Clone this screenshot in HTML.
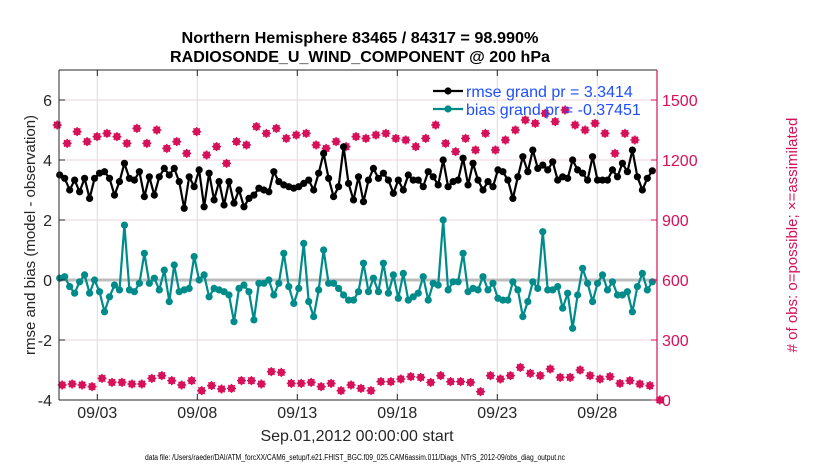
<!DOCTYPE html>
<html><head><meta charset="utf-8">
<style>
html,body{margin:0;padding:0;background:#fff;}
svg{display:block;font-family:"Liberation Sans",Arial,sans-serif;}
</style></head>
<body>
<svg id="chart" width="830" height="470" viewBox="0 0 830 470" xmlns="http://www.w3.org/2000/svg">
<g id="grid"></g>
<g id="series"></g>
<g id="axes"></g>
</svg>
<script>
const rmseValues=[3.5,3.39,3.0,3.33,2.94,3.39,2.72,3.39,3.56,3.61,3.39,2.83,3.28,3.89,3.39,3.33,3.61,2.78,3.44,2.83,3.44,3.72,3.5,3.72,3.28,2.39,3.44,3.11,3.67,2.44,
3.56,2.67,3.28,2.5,3.28,2.56,3.0,2.44,2.72,2.83,3.06,3.0,2.94,3.61,3.28,3.17,3.11,3.06,3.11,3.22,3.33,3.0,3.56,4.22,3.39,2.78,3.11,4.44,3.22,2.67,
3.44,2.61,3.33,3.72,3.39,3.56,3.33,2.89,3.33,3.0,3.5,3.33,3.33,3.11,3.61,3.44,3.17,4.0,3.11,3.28,3.33,4.06,3.17,3.89,3.33,3.0,3.28,3.11,3.67,
3.61,3.33,2.72,3.44,4.11,3.61,4.33,3.72,3.83,3.67,3.94,3.33,3.44,3.39,4.0,3.67,3.56,3.33,4.11,3.33,3.33,3.33,3.67,3.44,3.89,3.61,4.33,3.44,3.0,3.39,3.64];
const biasValues=[0.06,0.11,-0.22,-0.44,-0.06,0.17,-0.44,0,-0.39,-1.06,-0.56,-0.17,-0.33,1.83,-0.33,-0.39,-0.11,0.89,-0.11,0.06,-0.33,0.33,-0.72,0.5,-0.39,-0.33,-0.28,0.78,0,0.17,
-0.56,-0.28,-0.33,-0.39,-0.5,-1.39,-0.28,-0.17,-0.39,-1.33,-0.11,-0.11,0,-0.5,-0.11,0.89,-0.22,-0.78,-0.28,1.22,-0.72,-1.22,-0.33,1.0,-0.11,-0.11,-0.28,-0.5,-0.67,-0.67,
-0.39,0.56,-0.39,0.06,-0.39,0.56,-0.44,0.17,-0.61,0.22,-0.67,-0.56,-0.44,0.11,-0.67,-0.11,-0.17,2.0,-0.33,-0.06,-0.06,0.89,-0.39,-0.28,-0.33,0.11,-0.33,-0.11,-0.61,
-0.67,-0.67,-0.06,-0.33,-1.22,-0.72,-0.06,-0.28,1.61,-0.33,-0.33,-0.22,-0.94,-0.44,-1.61,-0.5,0.39,-0.11,-0.72,-0.11,0.17,-0.33,-0.06,-0.5,-0.5,-0.39,-1.06,-0.22,0.22,-0.33,-0.06];
const obsSynoptic=[1375,1283,1342,1292,1317,1333,1317,1283,1358,1283,1350,1258,1292,1233,1342,1225,
1267,1183,1292,1275,1367,1333,1358,1308,1325,1333,1275,1258,1292,1267,
1317,1308,1325,1333,1308,1300,1267,1308,1375,1283,1242,1308,1250,1333,
1250,1300,1350,1400,1383,1433,1392,1450,1375,1350,1383,1333,1233,1333,1300];
const obsOffSynoptic=[75,80,75,67,108,88,88,80,80,108,122,97,75,97,47,72,55,58,97,97,80,142,138,83,83,88,67,83,47,75,
58,47,92,92,105,117,113,88,122,92,92,88,42,122,105,122,163,133,122,155,113,113,150,122,105,117,83,97,80,72,0];
const leftTicks=[6,4,2,0,-2,-4];
const rightTicks=[0,300,600,900,1200,1500];
const dateTicks=[3,8,13,18,23,28];
const dateLabels=["09/03","09/08","09/13","09/18","09/23","09/28"];

const NS="http://www.w3.org/2000/svg";
const L=59,R=657,T=70,B=400;
const xIdx=i=>59.7+4.98*i;
const xDay=d=>57.3+20*(d-1);
const yL=v=>280-30*v;
const yR=c=>400-0.2*c;
const MAG="#d6115a",TEAL="#008b8b";
function mk(tag,attrs,parent){const e=document.createElementNS(NS,tag);for(const k in attrs)e.setAttribute(k,attrs[k]);parent.appendChild(e);return e;}
const grid=document.getElementById('grid'),series=document.getElementById('series'),axes=document.getElementById('axes');

let bg=mk('rect',{x:L,y:T,width:R-L,height:B-T,fill:'#fff'},grid);


dateTicks.forEach((d,k)=>{
 let g=mk('line',{x1:xDay(d),x2:xDay(d),y1:T,y2:B,stroke:'#dcdcdc','stroke-width':1},grid);
 
 
});
rightTicks.forEach(c=>{
 if(c===0)return;
 let g=mk('line',{x1:L,x2:R,y1:yR(c),y2:yR(c),stroke:'#f2d3de','stroke-width':1},grid);
 
 
});
let z=mk('line',{x1:L,x2:R,y1:yL(0),y2:yL(0),stroke:'#bdbdbd','stroke-width':3},grid);



function obsMarker(x,y){
 const g=mk('g',{},series);
 
 
 mk('circle',{cx:x,cy:y,r:3.2,fill:MAG,stroke:MAG,'stroke-width':1},g);
 mk('path',{d:`M${x-4.5},${y}H${x+4.5}M${x},${y-4.5}V${y+4.5}M${x-3.2},${y-3.2}L${x+3.2},${y+3.2}M${x-3.2},${y+3.2}L${x+3.2},${y-3.2}`,stroke:MAG,'stroke-width':1.5},g);
}
obsSynoptic.forEach((c,k)=>obsMarker(xIdx(2*k-0.5),yR(c)));
obsOffSynoptic.forEach((c,k)=>obsMarker(xIdx(2*k+0.5),yR(c)));

function lineSeries(vals,color,name){
 const pts=vals.map((v,i)=>xIdx(i).toFixed(1)+','+yL(v).toFixed(1)).join(' ');
 let pl=mk('polyline',{points:pts,fill:'none',stroke:color,'stroke-width':2.2,'stroke-linejoin':'round'},series);
 
 
 vals.forEach((v,i)=>{
  let c=mk('circle',{cx:xIdx(i),cy:yL(v),r:3.6,fill:color},series);
  
  
 });
}
lineSeries(biasValues,TEAL,'bias');
lineSeries(rmseValues,'#000','rmse');

mk('line',{x1:L,x2:R,y1:T,y2:T,stroke:'#262626','stroke-width':1},axes);
mk('line',{x1:L,x2:R,y1:B,y2:B,stroke:'#262626','stroke-width':1},axes);
mk('line',{x1:L,x2:L,y1:T,y2:B,stroke:'#262626','stroke-width':1},axes);
mk('line',{x1:R,x2:R,y1:T,y2:B+1,stroke:MAG,'stroke-width':1.2},axes);
leftTicks.forEach(v=>{
 mk('line',{x1:L,x2:L+6,y1:yL(v),y2:yL(v),stroke:'#262626'},axes);
 let t=mk('text',{x:52,y:yL(v)+6,'text-anchor':'end','font-size':16,fill:'#262626'},axes);
 t.textContent=String(v);
 
 
});
rightTicks.forEach(c=>{
 mk('line',{x1:R-6,x2:R,y1:yR(c),y2:yR(c),stroke:MAG},axes);
 let t=mk('text',{x:662,y:yR(c)+6,'font-size':16,fill:MAG},axes);
 t.textContent=String(c);
 
 
});
dateTicks.forEach((d,k)=>{
 mk('line',{x1:xDay(d),x2:xDay(d),y1:B-6,y2:B,stroke:'#262626'},axes);
 mk('line',{x1:xDay(d),x2:xDay(d),y1:T,y2:T+6,stroke:'#262626'},axes);
 let t=mk('text',{x:xDay(d),y:418,'text-anchor':'middle','font-size':16,fill:'#262626'},axes);
 t.textContent=dateLabels[k];
 
 
});
</script>
<svg style="position:absolute;left:0;top:0" width="830" height="470">
<text x="360" y="43" text-anchor="middle" font-size="16" font-weight="bold" fill="#000" textLength="357" lengthAdjust="spacingAndGlyphs">Northern Hemisphere 83465 / 84317 = 98.990%</text>
<text x="360" y="62" text-anchor="middle" font-size="16" font-weight="bold" fill="#000" textLength="380" lengthAdjust="spacingAndGlyphs">RADIOSONDE_U_WIND_COMPONENT @ 200 hPa</text>
<text transform="translate(35,235) rotate(-90)" text-anchor="middle" font-size="15" fill="#262626">rmse and bias (model - observation)</text>
<text transform="translate(797,235) rotate(-90)" text-anchor="middle" font-size="15" fill="#d6115a"># of obs: o=possible; ×=assimilated</text>
<text x="357" y="441" text-anchor="middle" font-size="16" fill="#262626">Sep.01,2012 00:00:00 start</text>
<text x="355" y="460" text-anchor="middle" font-size="8" fill="#000" textLength="420" lengthAdjust="spacingAndGlyphs">data file: /Users/raeder/DAI/ATM_forcXX/CAM6_setup/f.e21.FHIST_BGC.f09_025.CAM6assim.011/Diags_NTrS_2012-09/obs_diag_output.nc</text>
<g>
<line x1="433" x2="463" y1="91" y2="91" stroke="#000" stroke-width="2.2"/>
<circle cx="448" cy="91" r="3.6" fill="#000"/>
<text x="466" y="97" font-size="16" fill="#1f4fff">rmse grand pr = 3.3414</text>
<line x1="433" x2="463" y1="109" y2="109" stroke="#008b8b" stroke-width="2.2"/>
<circle cx="448" cy="109" r="3.6" fill="#008b8b"/>
<text x="466" y="115" font-size="16" fill="#1f4fff">bias grand pr = -0.37451</text>
</g>
</svg>
</body></html>
